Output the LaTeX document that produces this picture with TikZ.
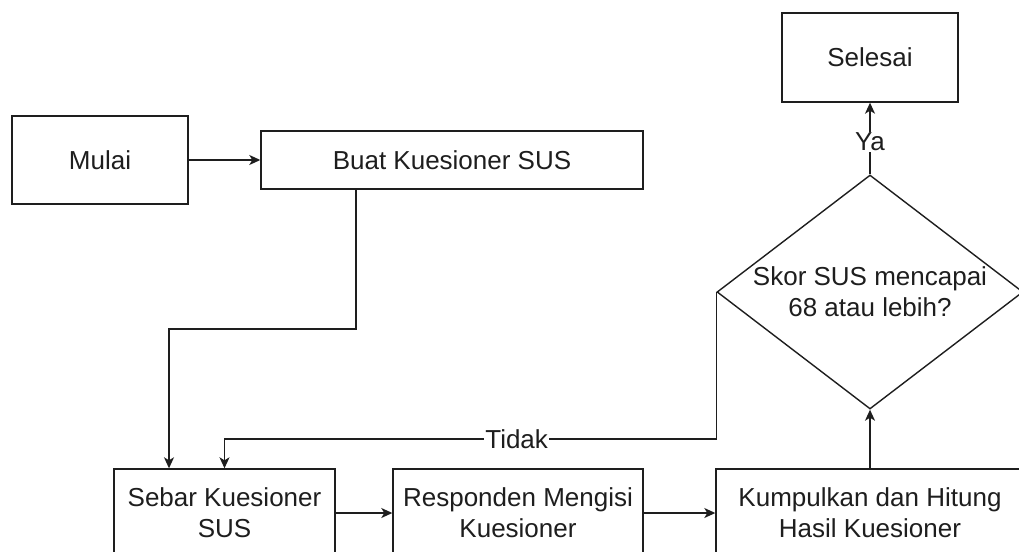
\documentclass[tikz,border=0pt]{standalone}
\usepackage{fontspec}
\setmainfont{Liberation Sans}
\usetikzlibrary{arrows.meta,shapes.geometric}
\definecolor{ink}{RGB}{30,30,30}
\begin{document}
\begin{tikzpicture}[x=1pt,y=-1pt,
  font=\fontsize{26pt}{31pt}\selectfont,
  every node/.style={text=ink},
  stepbox/.style={draw=ink,line width=1.4pt,rectangle,inner sep=0pt,align=center},
  decision/.style={draw=ink,line width=1.4pt,diamond,inner sep=0pt},
  arr/.style={draw=ink,line width=1.4pt,-{Stealth[length=11pt,width=10pt,inset=3pt]}},
  lbl/.style={fill=white,inner sep=1pt}]
  \clip (0,0) rectangle (1019,551);
  \fill[white] (0,0) rectangle (1019,551);

  % process steps
  \node[stepbox,minimum width=176pt,minimum height=88pt] (mulai) at (100,160) {Mulai};
  \node[stepbox,minimum width=382pt,minimum height=58pt] (buat) at (452,160) {Buat Kuesioner SUS};
  \node[stepbox,minimum width=221pt,minimum height=88pt] (sebar) at (224.5,513) {Sebar Kuesioner\\SUS};
  \node[stepbox,minimum width=250pt,minimum height=88pt] (responden) at (518,513) {Responden Mengisi\\Kuesioner};
  \node[stepbox,minimum width=308pt,minimum height=88pt] (kumpul) at (870,513) {Kumpulkan dan Hitung\\Hasil Kuesioner};
  \node[decision,minimum width=306pt,minimum height=234pt] (cek) at (870,292) {};
  \node[align=center] (cekteks) at (cek.center) {Skor SUS mencapai\\68 atau lebih?};
  \node[stepbox,minimum width=176pt,minimum height=89pt] (selesai) at (870,57.5) {Selesai};

  % routing points
  \coordinate (turnA) at (169,329);
  \coordinate (tidakY) at (0,439);

  % connectors
  \draw[arr] (mulai.east) -- (buat.west);
  \draw[arr] ([xshift=-96pt]buat.south) |- (turnA) -- (turnA |- sebar.north);
  \draw[arr] (sebar.east) -- (responden.west);
  \draw[arr] (responden.east) -- (kumpul.west);
  \draw[arr] (kumpul.north) -- (cek.south);
  \draw[arr] (cek.north) -- node[lbl,pos=0.45] {Ya} (selesai.south);
  \draw[arr] (cek.west) -- (cek.west |- tidakY)
    -- node[lbl,pos=0.406] {Tidak} (sebar.north |- tidakY) -- (sebar.north);
\end{tikzpicture}
\end{document}
